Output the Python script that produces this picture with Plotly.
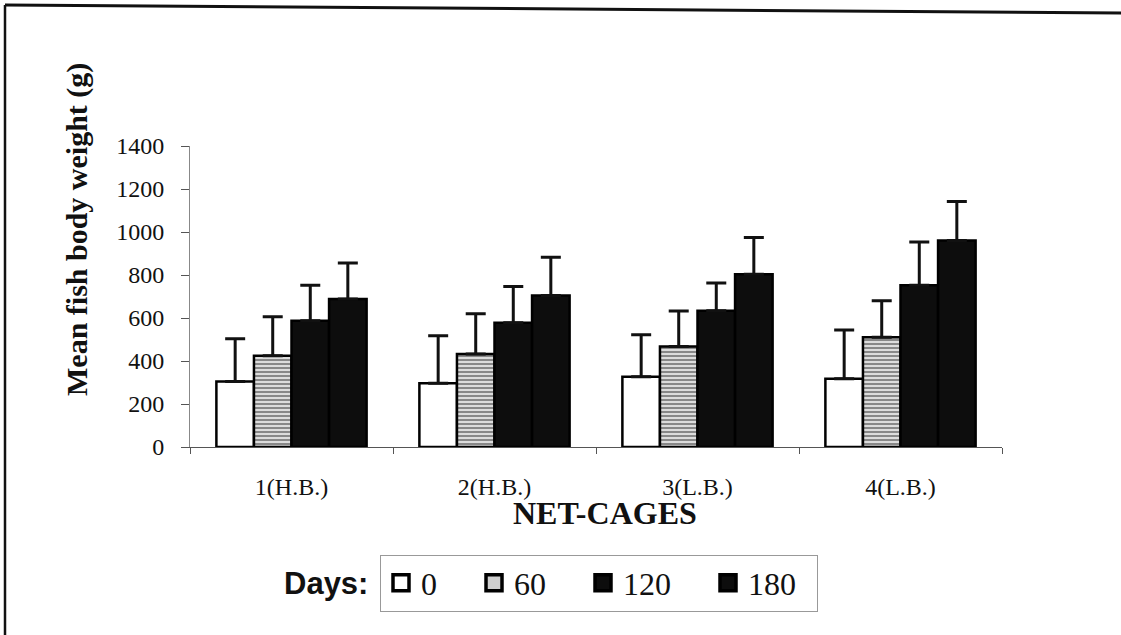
import plotly.graph_objects as go

categories = ["1(H.B.)", "2(H.B.)", "3(L.B.)", "4(L.B.)"]
series_names = ["0", "60", "120", "180"]
means = {
    "0": [305, 297, 327, 318],
    "60": [424, 432, 468, 510],
    "120": [587, 578, 634, 752],
    "180": [688, 705, 804, 961],
}
sd = {
    "0": [199, 220, 195, 226],
    "60": [182, 188, 164, 170],
    "120": [165, 169, 129, 201],
    "180": [168, 177, 171, 181],
}
y_ticks = [0, 200, 400, 600, 800, 1000, 1200, 1400]

SERIF = "Liberation Serif, Times New Roman, serif"
SANS = "Liberation Sans, Arial, sans-serif"
NB = "\u00a0"
legend_pad = {"0": NB * 4, "60": NB * 4, "120": NB * 4, "180": NB * 2}

# plot area in pixels (for placing decorations in paper coordinates)
L, R, T, B = 190, 1002, 146, 447
def px(x):
    return (x - L) / (R - L)
def py(y):
    return (B - y) / (B - T)

fills = {
    "0": dict(color="white"),
    "60": dict(color="white", pattern=dict(shape="-", fgcolor="#333", bgcolor="#dcdcdc", size=4, solidity=0.5)),
    "120": dict(color="#0d0d0d"),
    "180": dict(color="#0d0d0d"),
}
legend_fill = {"0": "white", "60": "#cfcfcf", "120": "#0d0d0d", "180": "#0d0d0d"}

fig = go.Figure()
for name in series_names:
    m = dict(fills[name])
    m["line"] = dict(color="black", width=2.5)
    fig.add_trace(go.Bar(
        x=categories, y=means[name], name=name, marker=m, showlegend=False,
        error_y=dict(type="data", array=sd[name], arrayminus=[0]*4, symmetric=False,
                     color="#111", thickness=3, width=10),
    ))
for name in series_names:
    fig.add_trace(go.Scatter(
        x=[None], y=[None], mode="markers", name=name + legend_pad[name],
        marker=dict(symbol="square", size=16, color=legend_fill[name],
                    line=dict(color="black", width=3.5)),
        showlegend=True,
    ))

fig.update_layout(
    width=1121, height=635,
    margin=dict(l=L, r=1121 - R, t=T, b=635 - B),
    paper_bgcolor="white", plot_bgcolor="white",
    barmode="group", bargap=0.26, bargroupgap=0,
    showlegend=True,
    legend=dict(orientation="h", xref="container", yref="container",
                x=380/1121, y=1-583/635, xanchor="left", yanchor="middle",
                font=dict(family=SERIF, size=32, color="#111"),
                bordercolor="#999", borderwidth=1, bgcolor="white",
                itemsizing="trace"),
    xaxis=dict(range=[-0.5, 3.5], showline=True, linecolor="#555", linewidth=1, ticks="outside", ticklen=6,
               tickcolor="#555", tickson="boundaries", showgrid=False,
               ticklabelstandoff=18,
               tickfont=dict(family=SERIF, size=24, color="#111")),
    yaxis=dict(range=[0, 1400], tickvals=y_ticks, showline=True, linecolor="#888", linewidth=1,
               ticks="outside", ticklen=8, tickcolor="#555", showgrid=False, zeroline=False,
               ticklabelstandoff=12,
               tickfont=dict(family=SERIF, size=24, color="#111")),
    annotations=[
        dict(text="<b>Mean fish body weight (g)</b>", textangle=-90, x=px(77), y=py(230),
             xref="paper", yref="paper", xanchor="center", yanchor="middle", showarrow=False,
             font=dict(family=SERIF, size=30, color="#111")),
        dict(text="<b>NET-CAGES</b>", x=px(605), y=py(513), xref="paper", yref="paper",
             xanchor="center", yanchor="middle",
             showarrow=False, font=dict(family=SERIF, size=32, color="#111")),
        dict(text="<b>Days:</b>", x=px(326), y=py(583), xref="paper", yref="paper",
             xanchor="center", yanchor="middle",
             showarrow=False, font=dict(family=SANS, size=31, color="#111")),
    ],
    shapes=[
        dict(type="line", xref="paper", yref="paper", x0=px(5), y0=py(5), x1=px(1121), y1=py(13),
             line=dict(color="#111", width=3)),
        dict(type="line", xref="paper", yref="paper", x0=px(5), y0=py(5), x1=px(5), y1=py(640),
             line=dict(color="#111", width=2.5)),
    ],
)

fig.write_html("out.html", config={"displayModeBar": False},
               post_script="document.body.style.margin='0';")
